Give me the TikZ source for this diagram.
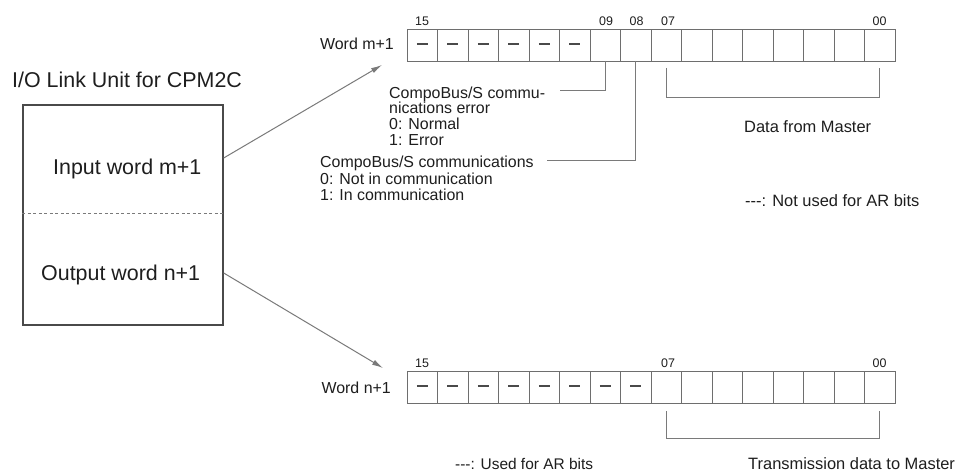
\documentclass[tikz,border=0pt]{standalone}
\usepackage{fontspec}
\setmainfont{Liberation Sans}
\usetikzlibrary{arrows.meta}
\definecolor{cellgray}{HTML}{6E6E6E}
\definecolor{leadgray}{HTML}{7A7A7A}
\definecolor{txt}{HTML}{1E1E1E}
\definecolor{boxgray}{HTML}{4A4A4A}
\tikzset{
  cell/.style={draw=cellgray, line width=0.9bp, minimum width=30.5bp, minimum height=32bp, inner sep=0pt, outer sep=0pt, anchor=north west},
  dashmark/.style={draw=boxgray, line width=1.6bp},
  leader/.style={draw=leadgray, line width=0.9bp},
  num/.style={inner sep=0pt, text=txt, font=\fontsize{12.5}{14}\selectfont, anchor=base west},
  lbl/.style={inner sep=0pt, text=txt, font=\fontsize{16}{15.7}\selectfont, anchor=base west},
  biglbl/.style={inner sep=0pt, text=txt, font=\fontsize{21.5}{26}\selectfont},
  unitbox/.style={draw=boxgray, line width=1.4bp, minimum width=200bp, minimum height=220bp, inner sep=0pt},
  feed/.style={draw=leadgray, line width=1bp, -{Latex[length=11bp,width=5.5bp]}, color=leadgray},
}
\begin{document}
\begin{tikzpicture}[x=1bp,y=-1bp]
\useasboundingbox (0,0) rectangle (958,471);
\fill[white] (0,0) rectangle (958,471);

% unit box
\node[biglbl, anchor=base west] (title) at (12,87.5) {I/O Link Unit for CPM2C};
\node[unitbox] (unit) at (123,215) {};
\draw[draw=leadgray, line width=0.8bp, dash pattern=on 3bp off 2.5bp] (unit.west |- 0,213) -- (unit.east |- 0,213);
\node[biglbl, anchor=base west] (inw) at (53,174.5) {Input word m+1};
\node[biglbl, anchor=base west] (outw) at (41,280.5) {Output word n+1};

% registers
\foreach \i in {0,...,15} {
  \pgfmathtruncatemacro\b{15-\i}
  \pgfmathsetmacro\xx{407+\i*30.5}
  \node[cell] (t\b) at (\xx,29) {};
  \node[cell] (b\b) at (\xx,371) {};
}
\foreach \b in {15,14,13,12,11,10} {
  \draw[dashmark] ([xshift=-5.5bp,yshift=1bp]t\b.center) -- ([xshift=5.5bp,yshift=1bp]t\b.center);
}
\foreach \b in {15,14,13,12,11,10,9,8} {
  \draw[dashmark] ([xshift=-5.5bp,yshift=1bp]b\b.center) -- ([xshift=5.5bp,yshift=1bp]b\b.center);
}

% bit numbers
\node[num] (nt15) at ([xshift=8bp,yshift=3bp]t15.north west) {15};
\node[num] (nt09) at ([xshift=9bp,yshift=3bp]t9.north west) {09};
\node[num] (nt08) at ([xshift=9bp,yshift=3bp]t8.north west) {08};
\node[num] (nt07) at ([xshift=10bp,yshift=3bp]t7.north west) {07};
\node[num] (nt00) at ([xshift=8bp,yshift=3bp]t0.north west) {00};
\node[num] (nb15) at ([xshift=8bp,yshift=3bp]b15.north west) {15};
\node[num] (nb07) at ([xshift=10bp,yshift=3bp]b7.north west) {07};
\node[num] (nb00) at ([xshift=8bp,yshift=3bp]b0.north west) {00};

% word labels
\node[lbl, anchor=base east] (wm) at (394,50) {Word m+1};
\node[lbl, anchor=base east] (wn) at (391,393) {Word n+1};

% feed arrows
\coordinate (inTip) at (382,65);
\coordinate (outTip) at (383,368);
\draw[feed] (unit.east |- 0,158) -- (inTip);
\draw[feed] (unit.east |- 0,273) -- (outTip);

% status bit texts
\node[lbl] (err1) at (389,98.5) {CompoBus/S commu-};
\node[lbl] (err2) at (389,114) {nications error};
\node[lbl] (err3) at (389,129.5) {0: Normal};
\node[lbl] (err4) at (389,145.5) {1: Error};
\node[lbl] (com1) at (320,168) {CompoBus/S communications};
\node[lbl] (com2) at (320,184.5) {0: Not in communication};
\node[lbl] (com3) at (320,200.5) {1: In communication};
\coordinate (errEnd) at (560,90);
\coordinate (comEnd) at (547,160);
\draw[leader] (t9.south) |- (errEnd);
\draw[leader] (t8.south) |- (comEnd);

% brackets
\draw[leader] ([yshift=-7bp]t7.south) -- ([yshift=-36bp]t7.south) -| ([yshift=-7bp]t0.south);
\draw[leader] ([yshift=-8bp]b7.south) -- ([yshift=-35bp]b7.south) -| ([yshift=-8bp]b0.south);

\node[lbl, font=\fontsize{16.5}{18}\selectfont] (dfm) at (744,133) {Data from Master};
\node[lbl, font=\fontsize{16.5}{18}\selectfont] (nused) at (745,207) {{-}{-}{-}: Not used for AR bits};
\node[lbl, font=\fontsize{15.5}{18}\selectfont] (used) at (455,469) {{-}{-}{-}: Used for AR bits};
\node[lbl, font=\fontsize{16.5}{18}\selectfont] (tdm) at (748,469) {Transmission data to Master};
\end{tikzpicture}
\end{document}
